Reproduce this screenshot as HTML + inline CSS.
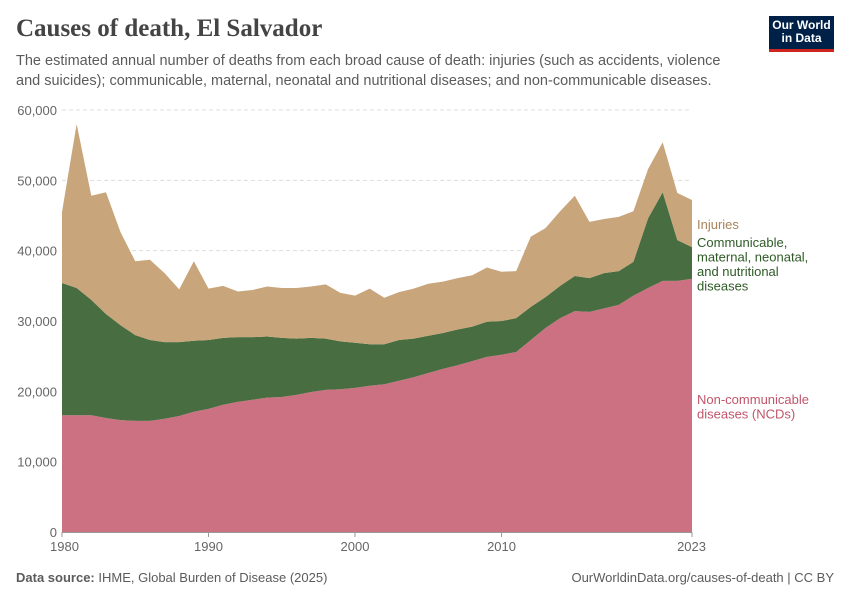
<!DOCTYPE html>
<html><head><meta charset="utf-8"><style>
body{margin:0;background:#fff;font-family:"Liberation Sans",sans-serif;}
#wrap{position:relative;width:850px;height:600px;overflow:hidden;}
.t{position:absolute;white-space:nowrap;}
</style></head><body>
<div id="wrap">
<div class="t" style="left:16px;top:15px;font-family:'Liberation Serif',serif;font-size:25px;font-weight:bold;color:#444;">Causes of death, El Salvador</div>
<div class="t" style="left:16px;top:52px;font-size:14.5px;line-height:19.5px;color:#5b5b5b;white-space:normal;width:720px;">The estimated annual number of deaths from each broad cause of death: injuries (such as accidents, violence and suicides); communicable, maternal, neonatal and nutritional diseases; and non-communicable diseases.</div>
<div style="position:absolute;left:769px;top:16px;width:65px;height:36px;background:#002147;border-bottom:3px solid #ce261e;color:#fff;font-size:12px;font-weight:bold;line-height:13px;text-align:center;padding-top:3px;box-sizing:border-box;">Our World<br>in Data</div>
<svg id="chart" width="850" height="600" style="position:absolute;left:0;top:0"></svg>
<div class="t" style="left:16px;top:570px;font-size:13px;color:#5b5b5b;"><b>Data source:</b> IHME, Global Burden of Disease (2025)</div>
<div class="t" style="right:16px;top:570px;font-size:13px;color:#5b5b5b;">OurWorldinData.org/causes-of-death | CC BY</div>
</div>
<script>
const years=[];for(let y=1980;y<=2023;y++)years.push(y);
const ncd=[16.6,16.6,16.6,16.2,15.9,15.8,15.8,16.1,16.5,17.1,17.5,18.1,18.5,18.8,19.1,19.2,19.5,19.9,20.2,20.3,20.5,20.8,21.0,21.5,22.0,22.6,23.2,23.7,24.3,24.9,25.2,25.6,27.3,29.0,30.4,31.4,31.3,31.8,32.3,33.6,34.7,35.7,35.7,36.0];
const comm=[18.8,18.1,16.4,14.8,13.5,12.2,11.5,10.9,10.5,10.1,9.8,9.5,9.2,8.9,8.7,8.4,8.0,7.7,7.3,6.8,6.4,5.9,5.7,5.8,5.5,5.3,5.1,5.1,4.9,5.0,4.8,4.8,4.7,4.4,4.6,5.0,4.8,5.0,4.8,4.8,9.9,12.6,5.8,4.5];
const inj=[10.1,23.3,14.8,17.3,13.2,10.5,11.4,9.8,7.5,11.3,7.3,7.4,6.5,6.7,7.1,7.1,7.2,7.3,7.7,6.9,6.7,7.9,6.6,6.8,7.1,7.4,7.3,7.3,7.3,7.7,7.0,6.7,10.0,9.8,10.6,11.4,8.0,7.7,7.7,7.2,7.0,7.1,6.7,6.7];
const yTicks=[0,10000,20000,30000,40000,50000,60000];
const xTicks=[1980,1990,2000,2010,2023];
const X0=62,X1=692,Y0=532,Y1=110;
const xs=y=>X0+(y-1980)/(2023-1980)*(X1-X0);
const ys=v=>Y0-v/60000*(Y0-Y1);
const svg=document.getElementById('chart');const NS='http://www.w3.org/2000/svg';
function mk(t,a){const e=document.createElementNS(NS,t);for(const k in a)e.setAttribute(k,a[k]);svg.appendChild(e);return e;}
yTicks.forEach(v=>{
 if(v>0){const l=mk('line',{x1:X0,x2:X1,y1:ys(v),y2:ys(v),stroke:'#ddd','stroke-dasharray':'4,3'});
 
 }
 const t=mk('text',{x:57,y:ys(v)+5,'text-anchor':'end','font-size':13,fill:'#666','font-family':'Liberation Sans'});t.textContent=v.toLocaleString('en-US');
 
 
});
const series=[[ncd,'#cc7182','area-ncd'],[comm,'#486d41','area-communicable'],[inj,'#c8a57a','area-injuries']];
let base=years.map(()=>0);
series.forEach(([arr,col,name])=>{
 const top=base.map((b,i)=>b+arr[i]*1000);
 let d='M'+years.map((y,i)=>xs(y)+','+ys(top[i])).join('L');
 for(let i=years.length-1;i>=0;i--)d+='L'+xs(years[i])+','+ys(base[i]);
 const p=mk('path',{d:d+'Z',fill:col});
 
 
 base=top;
});
const ax=mk('line',{x1:X0,x2:X1,y1:Y0+0.5,y2:Y0+0.5,stroke:'#999'});


xTicks.forEach(y=>{
 mk('line',{x1:xs(y),x2:xs(y),y1:Y0,y2:Y0+5,stroke:'#999'});
 const t=mk('text',{x:xs(y),y:Y0+19,'text-anchor':y===1980?'start':(y===2023?'end':'middle'),'font-size':13,fill:'#666','font-family':'Liberation Sans'});
 if(y===1980)t.setAttribute('x',xs(y)-12);
 if(y===2023)t.setAttribute('x',xs(y)+14);
 t.textContent=y;
 
 
});
const labels=[['Injuries','#a8845a',229,['Injuries']],['legend-communicable','#2e5a26',247,['Communicable,','maternal, neonatal,','and nutritional','diseases']],['legend-ncd','#c0556a',404,['Non-communicable','diseases (NCDs)']]];
labels.forEach(([n,c,y0,lines])=>{
 const t=mk('text',{x:697,y:y0,'font-size':13,fill:c,'font-family':'Liberation Sans'});
 lines.forEach((s,i)=>{const ts=document.createElementNS(NS,'tspan');ts.setAttribute('x',697);ts.setAttribute('y',y0+i*14.5);ts.textContent=s;t.appendChild(ts);});
 
 
});
</script>
</body></html>
